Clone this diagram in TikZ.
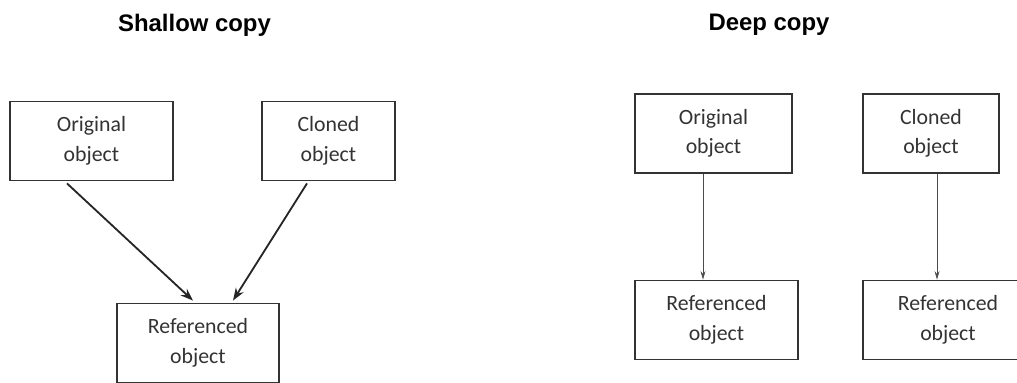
\documentclass[tikz,border=0pt]{standalone}
\usepackage{fontspec}
\setmainfont{Carlito}
\newfontfamily\titlefont{Liberation Sans}
\usetikzlibrary{positioning,calc,arrows.meta}

\begin{document}
\begin{tikzpicture}[x=0.025cm, y=-0.025cm,
    box/.style={draw=black!80, line width=1.3pt, inner sep=0pt, align=center,
        text=black!80, font=\fontsize{15.5}{21}\selectfont,
        minimum width=163*0.025cm, minimum height=79*0.025cm},
    heading/.style={font=\titlefont\bfseries\fontsize{17}{20}\selectfont},
    ptr/.style={-{Stealth[length=9pt,width=6.5pt]}, line width=1.3pt, draw=black!85},
    thinptr/.style={-{Stealth[length=6pt,width=3.5pt]}, line width=0.5pt, draw=black!70}]
    \clip (0,0) rectangle (1017,382);
    % shallow copy
    \node[heading] (shallow) at (194.5,25) {Shallow copy};
    \node[box] (sorig) at (91.5,141) {Original\\object};
    \node[box, minimum width=133*0.025cm] (sclone) at (328.5,141) {Cloned\\object};
    \node[box, minimum width=162*0.025cm] (sref) at (198,343) {Referenced\\object};
    \draw[ptr] ($(sorig.south)+(-24.5,2)$) -- ($(sref.north)+(-5,-2)$);
    \draw[ptr] ($(sclone.south)+(-21.5,2)$) -- ($(sref.north)+(35,-2)$);
    % deep copy
    \node[heading] (deep) at (769,25) {Deep copy};
    \node[box, minimum width=157*0.025cm] (dorig) at (713.5,133.5) {Original\\object};
    \node[box, minimum width=136*0.025cm] (dclone) at (931,133.5) {Cloned\\object};
    \node[box] (dref) at (716.5,320) {Referenced\\object};
    \node[box, minimum width=170*0.025cm] (dref2) at (948,320) {Referenced\\object};
    \draw[thinptr] ($(dorig.south)+(-10.5,0)$) -- ($(dref.north)+(-13.5,0)$);
    \draw[thinptr] ($(dclone.south)+(6,0)$) -- ($(dref2.north)+(-11,0)$);
\end{tikzpicture}
\end{document}
